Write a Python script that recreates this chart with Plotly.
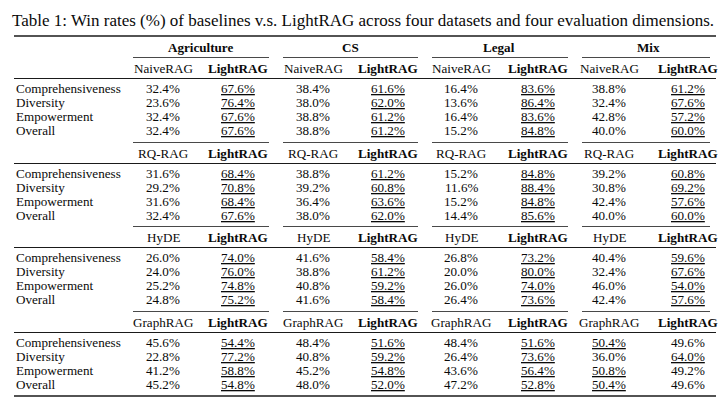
import plotly.graph_objects as go

TITLE = "Table 1: Win rates (%) of baselines v.s. LightRAG across four datasets and four evaluation dimensions."
DATASETS = ["Agriculture", "CS", "Legal", "Mix"]
BASELINES = ["NaiveRAG", "RQ-RAG", "HyDE", "GraphRAG"]
METRICS = ["Comprehensiveness", "Diversity", "Empowerment", "Overall"]

# baseline win rates: [baseline][metric][dataset]
BASELINE_WIN = [
    [[32.4, 38.4, 16.4, 38.8], [23.6, 38.0, 13.6, 32.4], [32.4, 38.8, 16.4, 42.8], [32.4, 38.8, 15.2, 40.0]],
    [[31.6, 38.8, 15.2, 39.2], [29.2, 39.2, 11.6, 30.8], [31.6, 36.4, 15.2, 42.4], [32.4, 38.0, 14.4, 40.0]],
    [[26.0, 41.6, 26.8, 40.4], [24.0, 38.8, 20.0, 32.4], [25.2, 40.8, 26.0, 46.0], [24.8, 41.6, 26.4, 42.4]],
    [[45.6, 48.4, 48.4, 50.4], [22.8, 40.8, 26.4, 36.0], [41.2, 45.2, 43.6, 50.8], [45.2, 48.0, 47.2, 50.4]],
]
LIGHTRAG_WIN = [
    [[67.6, 61.6, 83.6, 61.2], [76.4, 62.0, 86.4, 67.6], [67.6, 61.2, 83.6, 57.2], [67.6, 61.2, 84.8, 60.0]],
    [[68.4, 61.2, 84.8, 60.8], [70.8, 60.8, 88.4, 69.2], [68.4, 63.6, 84.8, 57.6], [67.6, 62.0, 85.6, 60.0]],
    [[74.0, 58.4, 73.2, 59.6], [76.0, 61.2, 80.0, 67.6], [74.8, 59.2, 74.0, 54.0], [75.2, 58.4, 73.6, 57.6]],
    [[54.4, 51.6, 51.6, 49.6], [77.2, 59.2, 73.6, 64.0], [58.8, 54.8, 56.4, 49.2], [54.8, 52.0, 52.8, 49.6]],
]

FONT = "Liberation Serif"
W, H = 722, 408
col_x = [163, 238, 313, 388, 461, 538, 609, 688]
ds_x = [200, 350, 499, 648]
cmid = [(133, 269), (283, 418), (432, 568), (582, 710)]
left, right = 14, 716
header_y = [68, 153, 237, 322]
row_dy = [20, 34.5, 48.5, 62.5]

ann = []
shapes = []


def text(x, y, s, anchor="center", size=13.1):
    ann.append(dict(x=x, y=y, text=s, xref="x", yref="y", showarrow=False,
                    xanchor=anchor, yanchor="middle", font=dict(family=FONT, size=size, color="#0a0a0a")))


def hline(x0, x1, y, w=1.0):
    shapes.append(dict(type="line", xref="x", yref="y", x0=x0, x1=x1, y0=y, y1=y,
                       line=dict(color="#1a1a1a", width=w)))


def fmt(v, win):
    s = f"{v:.1f}%"
    return f"<u>{s}</u>" if win else s


text(10, 20, TITLE, anchor="left", size=17)
hline(left, right, 36, 1.3)
for d, name in enumerate(DATASETS):
    text(ds_x[d], 47, f"<b>{name}</b>")

for g, base in enumerate(BASELINES):
    hy = header_y[g]
    for (a, b) in cmid:
        hline(a, b, hy - 10.5, 0.8)
    hline(left, right, hy + 10.5, 1.0)
    for d in range(4):
        text(col_x[2 * d], hy, base)
        text(col_x[2 * d + 1], hy, "<b>LightRAG</b>")
    for m, metric in enumerate(METRICS):
        y = hy + row_dy[m]
        text(left, y, metric, anchor="left")
        for d in range(4):
            bv = BASELINE_WIN[g][m][d]
            lv = LIGHTRAG_WIN[g][m][d]
            text(col_x[2 * d], y, fmt(bv, bv > lv))
            text(col_x[2 * d + 1], y, fmt(lv, lv > bv))

hline(left, right, 396, 1.3)

fig = go.Figure()
fig.add_trace(go.Scatter(x=[0, W], y=[0, H], mode="markers", marker=dict(opacity=0), hoverinfo="skip"))
fig.update_layout(
    width=W, height=H, margin=dict(l=0, r=0, t=0, b=0),
    plot_bgcolor="white", paper_bgcolor="white", showlegend=False,
    xaxis=dict(range=[0, W], visible=False, fixedrange=True),
    yaxis=dict(range=[H, 0], visible=False, fixedrange=True),
    annotations=ann, shapes=shapes,
)
fig.write_html("out.html", config={"displayModeBar": False},
               post_script="document.body.style.margin='0';document.body.style.overflow='hidden';")
